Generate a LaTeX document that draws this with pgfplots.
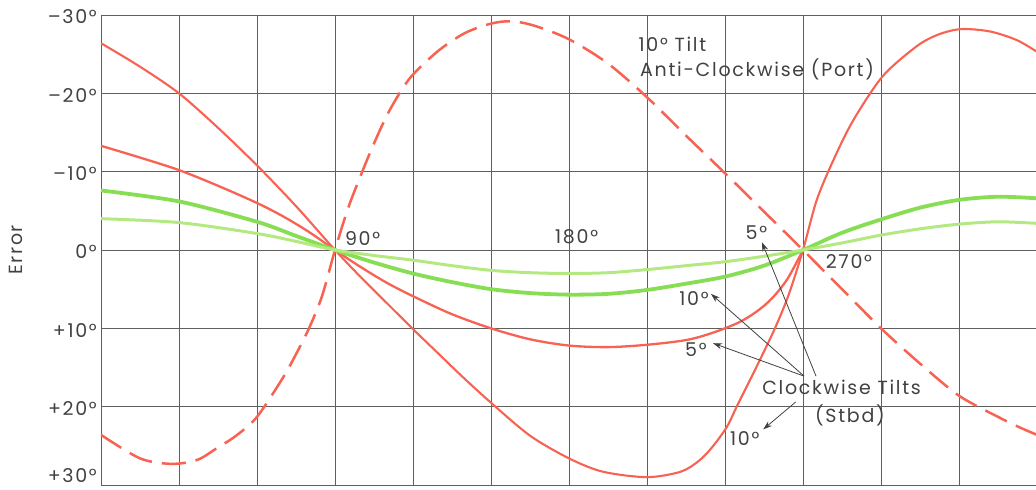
\documentclass[border=0pt]{standalone}
\usepackage{pgfplots}
\pgfplotsset{compat=1.18}
\usepackage{fontspec}
\setmainfont{Poppins}[LetterSpace=9]
\usetikzlibrary{arrows.meta}
\definecolor{cred}{RGB}{248,98,82}
\definecolor{cgA}{RGB}{135,222,85}
\definecolor{cgB}{RGB}{180,233,130}
\definecolor{ctext}{RGB}{65,65,65}
\definecolor{cgrid}{RGB}{95,95,95}
\begin{document}
\begin{tikzpicture}
\begin{axis}[
  width=936pt, height=470pt, scale only axis,
  xmin=0, xmax=360, ymin=-30, ymax=30, y dir=reverse,
  xtick={0,30,...,330}, xticklabels={},
  ytick={-30,-20,...,30},
  yticklabels={–30°,–20°,–10°,0°,+10°,+20°,\raisebox{4pt}[0pt][0pt]{+30°}},
  grid=major, major grid style={cgrid, line width=0.9pt},
  axis line style={draw=none},
  major tick length=0pt,
  yticklabel style={font=\fontsize{19}{22}\selectfont, text=ctext, anchor=east, inner sep=0pt, xshift=-4pt, yshift=-2pt},
  ylabel={Error},
  ylabel style={font=\fontsize{19}{24}\selectfont, text=ctext, at={(axis description cs:-0.0913,0.5)}, anchor=center},
]
% anti-clockwise 10 deg (dashed)
\addplot[cred, line width=2.5pt, dash pattern=on 24pt off 10pt, smooth] coordinates {
(0,23.6) (15,26.6) (27,27.3) (37,26.8) (45,25.2) (52,23.7) (60,21.3) (70,16.3) (75,13.3) (80,10.0) (85,5.9) (90,0) (95,-5.3) (100,-9.6) (105,-13.6) (110,-17.2) (115,-20.1) (120,-22.4) (130,-25.5) (140,-27.7) (150,-28.9) (158,-29.2) (167,-28.6) (180,-26.9) (195,-23.8) (210,-19.5) (225,-14.6) (240,-9.8) (255,-4.9) (270,0) (285,5.0) (300,10.0) (315,14.5) (330,18.6) (345,21.3) (353,22.6) (360,23.6)
};
% clockwise 10 deg
\addplot[cred, line width=2.1pt, smooth] coordinates {
(0,-26.4) (15,-23.4) (30,-20.0) (45,-15.6) (60,-10.8) (75,-5.6) (90,0) (100,3.5) (110,6.8) (120,10.1) (130,13.3) (139.4,16.3) (150,19.5) (165,23.7) (180,26.6) (193,28.3) (210,29.0) (223,28.3) (230,26.9) (235,25.2) (240.7,22.6) (244.5,20.0) (252,15.0) (259.2,10.0) (264.5,5.7) (270,0) (275.3,-6.4) (282,-11.7) (289.4,-16.6) (300.7,-22.2) (313.7,-26.0) (322,-27.5) (330.8,-28.2) (341.9,-27.9) (352.2,-26.8) (360,-25.3)
};
% clockwise 5 deg
\addplot[cred, line width=2.3pt, smooth] coordinates {
(0,-13.3) (15,-11.8) (30,-10.2) (45,-8.2) (60,-6.0) (70,-4.3) (80,-2.3) (90,0) (100,2.2) (110,4.2) (120,5.9) (135,8.2) (150,10.0) (165,11.4) (180,12.2) (195,12.4) (210,12.1) (225,11.5) (235,10.6) (245,9.3) (252,7.9) (258,6.2) (264,3.7) (270,0)
};
% green 10
\addplot[cgA, line width=3.8pt, smooth] coordinates {
(0,-7.6) (30,-6.2) (60,-3.6) (75,-1.8) (90,0) (105,1.6) (120,3.0) (135,4.1) (150,5.0) (165,5.5) (180,5.7) (195,5.6) (210,5.1) (225,4.3) (240,3.4) (255,2.0) (270,0) (285,-2.2) (300,-3.9) (315,-5.4) (330,-6.4) (345,-6.8) (360,-6.6)
};
% green 5
\addplot[cgB, line width=3pt, smooth] coordinates {
(0,-4.0) (30,-3.5) (60,-2.1) (75,-1.1) (90,0) (105,0.7) (120,1.3) (135,2.0) (150,2.6) (165,2.9) (180,3.0) (195,2.9) (210,2.5) (225,2.0) (240,1.5) (255,0.8) (270,0) (285,-0.9) (300,-1.9) (315,-2.7) (330,-3.3) (345,-3.6) (360,-3.4)
};
\tikzset{lab/.style={font=\fontsize{19}{22}\selectfont, text=ctext, anchor=base west, inner sep=0pt}}
\node[lab] at (axis cs:93.8,-0.6) {90°};
\node[lab] at (axis cs:174.6,-0.86) {180°};
\node[lab] at (axis cs:278.7,2.34) {270°};
\node[lab] at (axis cs:247.9,-1.37) {5°};
\node[lab] at (axis cs:222.4,7.1) {10°};
\node[lab] at (axis cs:224.6,13.6) {5°};
\node[lab] at (axis cs:254.3,18.4) {Clockwise Tilts};
\node[lab] at (axis cs:274.6,22.05) {(Stbd)};
\node[lab] at (axis cs:241.9,24.9) {10°};
\node[lab] at (axis cs:206.7,-25.3) {10° Tilt};
\node[lab] at (axis cs:207.3,-22.1) {Anti-Clockwise (Port)};
\tikzset{arr/.style={ctext, line width=0.8pt, -{Stealth[length=9pt,width=6pt]}}}
\draw[arr] (axis cs:275,16.1) -- (axis cs:254.2,-1.0);
\draw[arr] (axis cs:270.4,16.1) -- (axis cs:234.6,5.6);
\draw[arr] (axis cs:270.4,16.1) -- (axis cs:235.4,11.9);
\draw[arr] (axis cs:267.2,19.4) -- (axis cs:254.7,22.9);
\end{axis}
\pgfresetboundingbox
\path ([shift={(-101pt,15pt)}]current axis.north west) rectangle ([shift={(-1pt,-5pt)}]current axis.south east);
\end{tikzpicture}
\end{document}
